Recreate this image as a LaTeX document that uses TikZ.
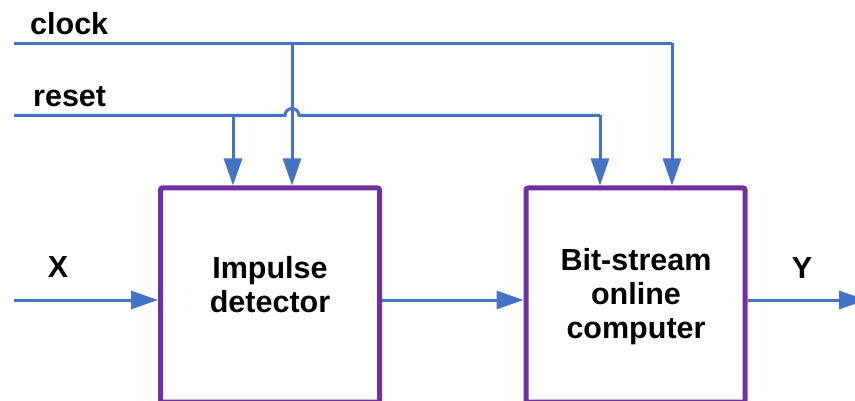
\documentclass[tikz,border=0pt]{standalone}
\usepackage{fontspec}
\setmainfont{Liberation Sans}
\usetikzlibrary{arrows.meta}
\definecolor{wireblue}{HTML}{4472C4}
\definecolor{boxpurple}{HTML}{7030A0}
\tikzset{
  wire/.style={draw=wireblue, line width=3pt},
  sig/.style={wire, -{Triangle[length=27pt,width=18pt]}},
  block/.style={draw=boxpurple, line width=5pt, rounded corners=2pt,
    minimum width=219pt, minimum height=214pt, inner sep=0pt},
  lbl/.style={font=\fontsize{30.5}{34}\selectfont\bfseries, inner sep=0pt, text=black},
}
\begin{document}
\begin{tikzpicture}[x=1pt,y=-1pt]
\useasboundingbox (0,0) rectangle (855,401);
\clip (0,0) rectangle (855,401);

% processing blocks
\node[block] (det) at (270,295) {};
\node[block] (bsc) at (635.5,295) {};
\node[lbl, align=center] (dettxt) at (270,285) {Impulse\\detector};
\node[lbl, align=center] (bsctxt) at (636,297) {Bit-stream\\online\\computer};

% signal names
\node[lbl, anchor=base west] (clklbl) at (30,35) {clock};
\node[lbl, anchor=base west] (rstlbl) at (33,107) {reset};
\node[lbl] (xlbl) at (58,267) {X};
\node[lbl] (ylbl) at (802,268) {Y};

% clock and reset rails
\coordinate (clkin) at (14,43.5);
\coordinate (clkA) at (292,43.5);
\coordinate (clkB) at (672,43.5);
\coordinate (rstin) at (14,115.5);
\coordinate (rstA) at (233,115.5);
\coordinate (hopL) at (285,115.5);
\coordinate (rstB) at (600,115.5);

\draw[wire] (clkin) -- (clkB);
\draw[sig] (clkB) -- (clkB |- bsc.north);
\draw[sig] (clkA) -- (clkA |- det.north);
\draw[wire] (rstin) -- (hopL) arc[start angle=180,end angle=0,radius=7pt] -- (rstB);
\draw[sig] (rstB) -- (rstB |- bsc.north);
\draw[sig] (rstA) -- (rstA |- det.north);

% data path
\coordinate (xin) at (14,300);
\coordinate (yout) at (866,300);
\draw[sig] (xin) -- (xin -| det.west);
\draw[sig] (det.east |- xin) -- (bsc.west |- xin);
\draw[sig] (bsc.east |- yout) -- (yout);
\end{tikzpicture}
\end{document}
